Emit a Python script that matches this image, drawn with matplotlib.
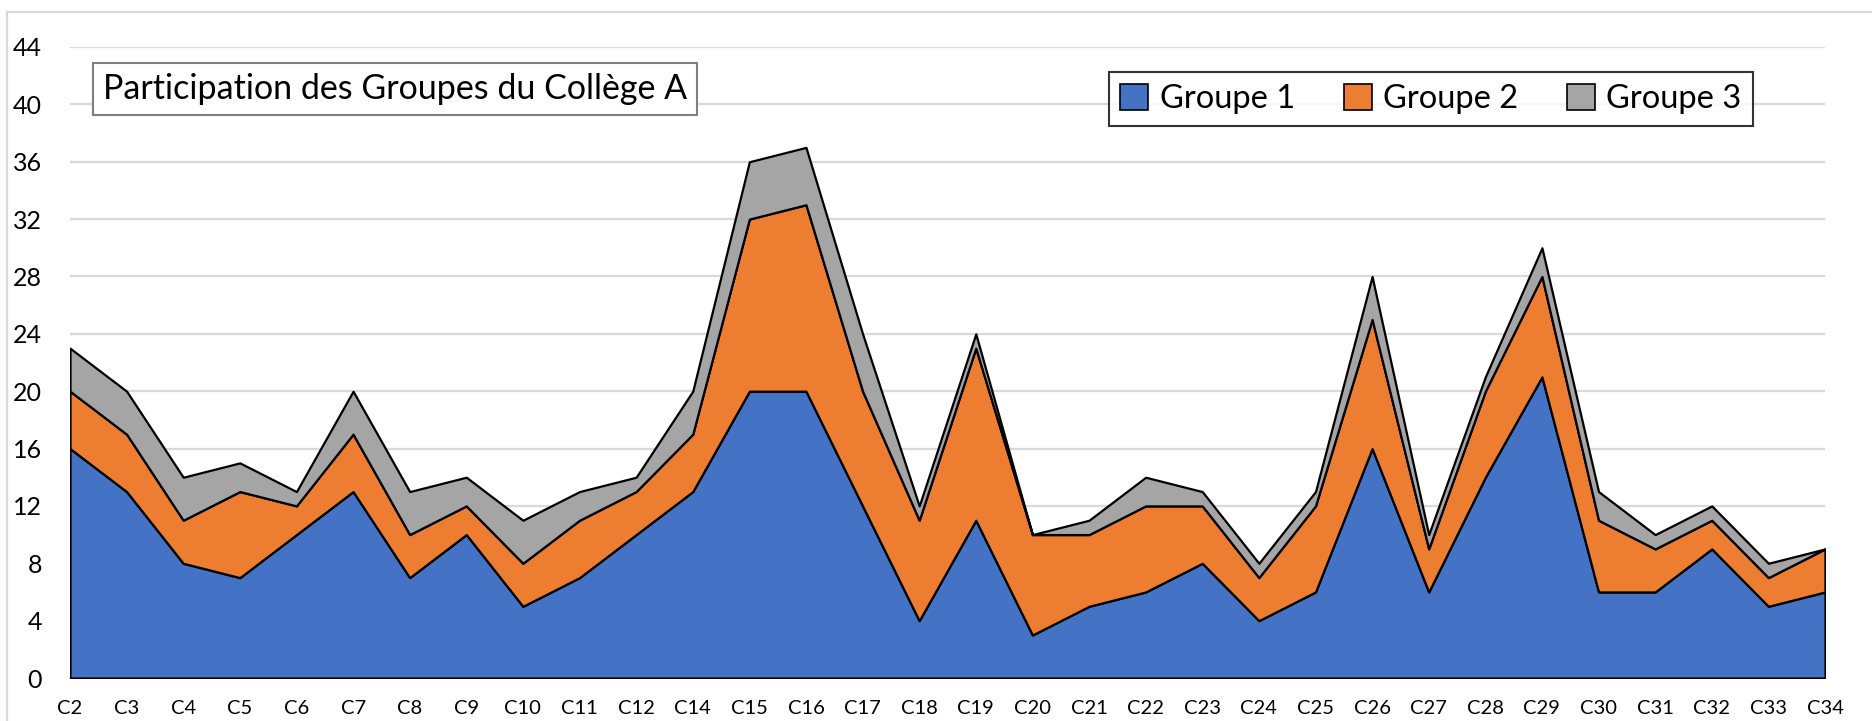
import matplotlib
matplotlib.use("Agg")
import matplotlib.pyplot as plt
from matplotlib.patches import Patch
from matplotlib.lines import Line2D
import numpy as np

BLUE, ORANGE, GREY = "#4472C4", "#ED7D31", "#A5A5A5"
plt.rcParams["font.family"] = ["Lato", "DejaVu Sans"]

categories = ["C2", "C3", "C4", "C5", "C6", "C7", "C8", "C9", "C10", "C11", "C12",
              "C14", "C15", "C16", "C17", "C18", "C19", "C20", "C21", "C22", "C23",
              "C24", "C25", "C26", "C27", "C28", "C29", "C30", "C31", "C32", "C33", "C34"]
groupe1 = [16, 13, 8, 7, 10, 13, 7, 10, 5, 7, 10, 13, 20, 20, 12, 4, 11, 3, 5, 6, 8,
           4, 6, 16, 6, 14, 21, 6, 6, 9, 5, 6]
groupe2 = [4, 4, 3, 6, 2, 4, 3, 2, 3, 4, 3, 4, 12, 13, 8, 7, 12, 7, 5, 6, 4,
           3, 6, 9, 3, 6, 7, 5, 3, 2, 2, 3]
groupe3 = [3, 3, 3, 2, 1, 3, 3, 2, 3, 2, 1, 3, 4, 4, 4, 1, 1, 0, 1, 2, 1,
           1, 1, 3, 1, 1, 2, 2, 1, 1, 1, 0]
series_names = ["Groupe 1", "Groupe 2", "Groupe 3"]
yticks = list(range(0, 45, 4))

W, H = 1872, 721
fig = plt.figure(figsize=(W / 100, H / 100), dpi=100)
ax = fig.add_axes([70 / W, 1 - 678 / H, (1825 - 70) / W, (678 - 47) / H])

x = np.arange(len(categories))
ax.stackplot(x, groupe1, groupe2, groupe3, colors=[BLUE, ORANGE, GREY],
             edgecolor="black", linewidth=1.6, zorder=3)

ax.set_xlim(0, len(categories) - 1)
ax.set_ylim(0, 44)
ax.set_yticks(yticks)
ax.set_xticks(x)
ax.set_xticklabels(categories)
ax.yaxis.grid(True, color="#D9D9D9", lw=1.6, zorder=0)
ax.set_axisbelow(True)
for s in ["top", "right", "left"]:
    ax.spines[s].set_visible(False)
ax.spines["bottom"].set_color("#D9D9D9")
ax.spines["bottom"].set_linewidth(1.6)
ax.tick_params(axis="y", length=0, pad=20, labelsize=18)
ax.tick_params(axis="x", length=0, pad=16, labelsize=14.5)

# chart frame (only top and left edge visible in the crop)
fig.add_artist(Line2D([7 / W, 1], [1 - 12 / H, 1 - 12 / H], color="#D9D9D9", lw=1.6))
fig.add_artist(Line2D([7 / W, 7 / W], [0, 1 - 12 / H], color="#D9D9D9", lw=1.6))

fig.text(395 / W, 1 - 89 / H, "Participation des Groupes du Collège A", fontsize=24.5,
         ha="center", va="center",
         bbox=dict(boxstyle="square,pad=0.28", fc="white", ec="#7F7F7F", lw=1.5))

handles = [Patch(fc=c, ec="black", lw=1.2) for c in [BLUE, ORANGE, GREY]]
leg = ax.legend(handles, series_names, ncol=3, loc="center",
                bbox_to_anchor=((1101 + 1761) / 2 / W, 1 - 99 / H),
                bbox_transform=fig.transFigure, fontsize=23.5, frameon=True,
                fancybox=False, edgecolor="black", handlelength=0.85, handleheight=0.85,
                handletextpad=0.35, columnspacing=1.5, borderpad=0.35)
leg.get_frame().set_linewidth(1.5)

fig.savefig("out.png", dpi=100)
